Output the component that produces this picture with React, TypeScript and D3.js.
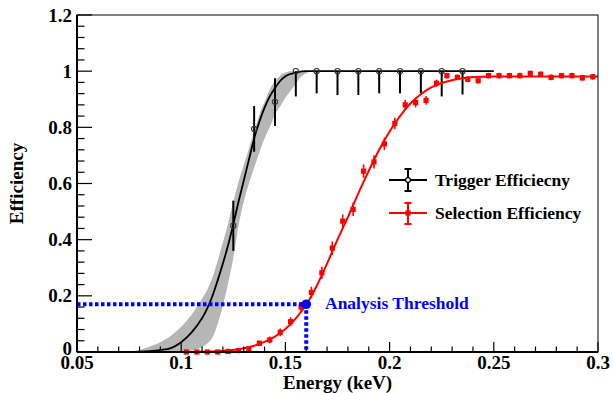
import React from "react";
import * as d3 from "d3";

// ---- axis ticks ----
const xTickLabels = ["0.05", "0.1", "0.15", "0.2", "0.25", "0.3"];
const yTickLabels = ["0", "0.2", "0.4", "0.6", "0.8", "1", "1.2"];

// ---- trigger efficiency data (black) ----
const trigX = [0.125, 0.135, 0.145, 0.155, 0.165, 0.175, 0.185, 0.195, 0.205, 0.215, 0.225, 0.235];
const trigY = [0.45, 0.794, 0.891, 1.0, 1.0, 1.0, 1.0, 1.0, 1.0, 1.0, 1.0, 1.0];
const trigErrLow = [0.09, 0.081, 0.086, 0.09, 0.079, 0.085, 0.085, 0.079, 0.079, 0.079, 0.09, 0.083];
const trigErrHigh = [0.089, 0.082, 0.084, 0, 0, 0, 0, 0, 0, 0, 0, 0];

// ---- trigger fit curve (black) ----
const trigFitX = [0.05, 0.075, 0.08, 0.085, 0.09, 0.095, 0.1, 0.105, 0.11, 0.1125, 0.115, 0.1175, 0.12, 0.1225, 0.125, 0.1275, 0.13, 0.1325, 0.135, 0.1375, 0.14, 0.1425, 0.145, 0.1475, 0.15, 0.155, 0.16, 0.25];
const trigFitY = [0, 0, 0.001, 0.003, 0.007, 0.014, 0.035, 0.07, 0.12, 0.155, 0.2, 0.255, 0.315, 0.38, 0.455, 0.535, 0.61, 0.685, 0.76, 0.82, 0.87, 0.91, 0.94, 0.965, 0.982, 0.995, 1.0, 1.0];

// ---- trigger fit uncertainty band (grey) ----
const bandX = [0.0775, 0.08, 0.0825, 0.085, 0.0875, 0.09, 0.0925, 0.095, 0.0975, 0.1, 0.1025, 0.105, 0.1075, 0.11, 0.1125, 0.115, 0.1175, 0.12, 0.1225, 0.125, 0.1275, 0.13, 0.1325, 0.135, 0.1375, 0.14, 0.1425, 0.145, 0.1475, 0.15, 0.1525, 0.155, 0.1575, 0.16, 0.1625];
const bandUpper = [0, 0.006, 0.013, 0.02, 0.027, 0.035, 0.045, 0.058, 0.073, 0.09, 0.11, 0.133, 0.16, 0.19, 0.222, 0.265, 0.325, 0.39, 0.458, 0.535, 0.605, 0.665, 0.725, 0.785, 0.845, 0.89, 0.935, 0.965, 0.985, 0.995, 1.0, 1.0, 1.0, 1.0, 1.0];
const bandLower = [0, 0, 0, 0, 0, 0, 0, 0, 0, 0, 0.002, 0.005, 0.01, 0.017, 0.03, 0.052, 0.1, 0.165, 0.245, 0.335, 0.45, 0.535, 0.6, 0.655, 0.71, 0.76, 0.8, 0.845, 0.875, 0.905, 0.93, 0.955, 0.98, 0.993, 1.0];

// ---- selection efficiency data (red) ----
const selX = [0.1025, 0.1075, 0.1125, 0.1175, 0.1225, 0.1275, 0.1325, 0.1375, 0.1425, 0.1475, 0.1525, 0.1575, 0.1625, 0.1675, 0.1725, 0.1775, 0.1825, 0.1875, 0.1925, 0.1975, 0.2025, 0.2075, 0.2125, 0.2175, 0.2225, 0.2275, 0.2325, 0.2375, 0.2425, 0.2475, 0.2525, 0.2575, 0.2625, 0.2675, 0.2725, 0.2775, 0.2825, 0.2875, 0.2925, 0.2975];
const selY = [0.0, 0.0, 0.0, 0.0, 0.002, 0.005, 0.011, 0.031, 0.043, 0.07, 0.108, 0.16, 0.212, 0.282, 0.37, 0.466, 0.508, 0.644, 0.677, 0.741, 0.814, 0.88, 0.888, 0.896, 0.957, 0.984, 0.978, 0.971, 0.966, 0.984, 0.984, 0.984, 0.984, 0.992, 0.989, 0.978, 0.984, 0.984, 0.976, 0.98];
const selErr = [0.003, 0.003, 0.003, 0.003, 0.004, 0.005, 0.006, 0.01, 0.012, 0.014, 0.016, 0.018, 0.02, 0.022, 0.024, 0.024, 0.024, 0.024, 0.024, 0.022, 0.02, 0.018, 0.017, 0.016, 0.013, 0.01, 0.01, 0.01, 0.01, 0.01, 0.01, 0.01, 0.01, 0.01, 0.01, 0.01, 0.01, 0.01, 0.01, 0.01];

// ---- selection fit curve (red) ----
const selFitX = [0.1, 0.105, 0.11, 0.115, 0.12, 0.125, 0.13, 0.135, 0.14, 0.145, 0.15, 0.155, 0.16, 0.165, 0.17, 0.175, 0.18, 0.185, 0.19, 0.195, 0.2, 0.205, 0.21, 0.215, 0.22, 0.225, 0.23, 0.235, 0.24, 0.25, 0.3];
const selFitY = [0, 0, 0.001, 0.002, 0.004, 0.007, 0.013, 0.022, 0.036, 0.055, 0.082, 0.12, 0.168, 0.235, 0.315, 0.4, 0.48, 0.565, 0.645, 0.72, 0.785, 0.84, 0.885, 0.918, 0.942, 0.958, 0.968, 0.975, 0.979, 0.981, 0.981];

// ---- threshold ----
const thresholdX = [0.16];
const thresholdY = [0.17];
const thresholdLabel = "Analysis Threshold";

const legendLabels = ["Trigger Efficiecny", "Selection Efficiency"];

const FONT = "'Liberation Serif', 'Times New Roman', serif";

export default function App() {
  const W = 613, H = 393;
  const L = 77, R = 598, T = 15, B = 352;
  const x = d3.scaleLinear().domain([0.05, 0.3]).range([L, R]);
  const y = d3.scaleLinear().domain([0, 1.2]).range([B, T]);

  const line = d3.line<[number, number]>().x(d => x(d[0])).y(d => y(d[1])).curve(d3.curveMonotoneX);
  const area = d3.area<number>()
    .x((_, i) => x(bandX[i]))
    .y0((_, i) => y(bandLower[i]))
    .y1((_, i) => y(bandUpper[i]))
    .curve(d3.curveMonotoneX);

  const trigFit = line(trigFitX.map((v, i) => [v, trigFitY[i]]));
  const selFit = line(selFitX.map((v, i) => [v, selFitY[i]]));
  const band = area(bandX);

  const xMajor = xTickLabels.map(Number);
  const xMinor = d3.range(0.05, 0.3001, 0.01).filter(v => !xMajor.some(m => Math.abs(m - v) < 1e-6));
  const yMajor = yTickLabels.map(Number);
  const yMinor = d3.range(0, 1.2001, 0.04).filter(v => !yMajor.some(m => Math.abs(m - v) < 1e-6));

  const tx = x(thresholdX[0]);
  const ty = y(thresholdY[0]);

  const legX0 = 389, legX1 = 427, legXm = 408;
  const legY = [180, 213];

  return (
    <svg width={W} height={H} style={{ position: "absolute", left: 0, top: 0, background: "#fff" }} fontFamily={FONT}>
      <rect x={0} y={0} width={W} height={H} fill="#fff" />
      {/* band */}
      <path d={band || ""} fill="#b6b6b6" stroke="none" />
      {/* trigger fit */}
      <path d={trigFit || ""} fill="none" stroke="#000" strokeWidth={1.8} />
      {/* trigger data */}
      {trigX.map((v, i) => (
        <g key={"t" + i}>
          <line x1={x(v)} x2={x(v)} y1={y(trigY[i] + trigErrHigh[i])} y2={y(trigY[i] - trigErrLow[i])} stroke="#000" strokeWidth={2} />
          <circle cx={x(v)} cy={y(trigY[i])} r={2.6} fill="none" stroke="#333" strokeWidth={1.1} />
        </g>
      ))}
      {/* selection fit */}
      <path d={selFit || ""} fill="none" stroke="#ff0000" strokeWidth={2} />
      {/* selection data */}
      {selX.map((v, i) => (
        <g key={"s" + i}>
          <line x1={x(v)} x2={x(v)} y1={y(selY[i] + selErr[i])} y2={y(Math.max(0, selY[i] - selErr[i]))} stroke="#ff0000" strokeWidth={1.6} />
          <rect x={x(v) - 2.6} y={y(selY[i]) - 2.6} width={5.2} height={5.2} fill="#ff0000" />
        </g>
      ))}
      {/* threshold */}
      <line x1={L} x2={tx} y1={ty} y2={ty} stroke="#0000ff" strokeWidth={4} strokeDasharray="3.5 2.5" />
      <line x1={tx} x2={tx} y1={ty} y2={B} stroke="#0000ff" strokeWidth={4} strokeDasharray="3.5 2.5" />
      <circle cx={tx} cy={ty} r={4.8} fill="#0000ff" />
      <text x={325} y={ty + 5} fontSize={17.5} fontWeight="bold" fill="#0000ff">{thresholdLabel}</text>

      {/* legend */}
      <line x1={legX0} x2={legX1} y1={legY[0]} y2={legY[0]} stroke="#000" strokeWidth={2} />
      <line x1={legXm} x2={legXm} y1={legY[0] - 11} y2={legY[0] + 11} stroke="#000" strokeWidth={2} />
      <line x1={legXm - 3.5} x2={legXm + 3.5} y1={legY[0] - 11} y2={legY[0] - 11} stroke="#000" strokeWidth={2} />
      <line x1={legXm - 3.5} x2={legXm + 3.5} y1={legY[0] + 11} y2={legY[0] + 11} stroke="#000" strokeWidth={2} />
      <circle cx={legXm} cy={legY[0]} r={2.4} fill="#fff" stroke="#000" strokeWidth={1.2} />
      <line x1={legX0} x2={legX1} y1={legY[1]} y2={legY[1]} stroke="#ff0000" strokeWidth={2} />
      <line x1={legXm} x2={legXm} y1={legY[1] - 10} y2={legY[1] + 11} stroke="#ff0000" strokeWidth={2} />
      <line x1={legXm - 3.5} x2={legXm + 3.5} y1={legY[1] - 10} y2={legY[1] - 10} stroke="#ff0000" strokeWidth={2} />
      <line x1={legXm - 3.5} x2={legXm + 3.5} y1={legY[1] + 11} y2={legY[1] + 11} stroke="#ff0000" strokeWidth={2} />
      <rect x={legXm - 2.6} y={legY[1] - 2.6} width={5.2} height={5.2} fill="#ff0000" />
      {legendLabels.map((t, i) => (
        <text key={t} x={435} y={legY[i] + 6} fontSize={17.5} fontWeight="bold" fill="#000">{t}</text>
      ))}

      {/* frame */}
      <rect x={L} y={T} width={R - L} height={B - T} fill="none" stroke="#000" strokeWidth={1} />
      <line x1={L} x2={L} y1={T} y2={B} stroke="#000" strokeWidth={2} />
      <line x1={L} x2={R} y1={B} y2={B} stroke="#000" strokeWidth={2} />
      {/* ticks */}
      {xMajor.map(v => <line key={"xM" + v} x1={x(v)} x2={x(v)} y1={B} y2={B - 10} stroke="#000" strokeWidth={1.2} />)}
      {xMinor.map(v => <line key={"xm" + v} x1={x(v)} x2={x(v)} y1={B} y2={B - 5.5} stroke="#000" strokeWidth={1.2} />)}
      {yMajor.map(v => <line key={"yM" + v} x1={L} x2={L + 15} y1={y(v)} y2={y(v)} stroke="#000" strokeWidth={1.2} />)}
      {yMinor.map(v => <line key={"ym" + v} x1={L} x2={L + 7.5} y1={y(v)} y2={y(v)} stroke="#000" strokeWidth={1.2} />)}
      {/* tick labels */}
      {xTickLabels.map(t => (
        <text key={"xl" + t} x={x(Number(t))} y={369} textAnchor="middle" fontSize={19} fontWeight="bold">{t}</text>
      ))}
      {yTickLabels.map(t => (
        <text key={"yl" + t} x={72} y={Number(t) === 0 ? 355 : y(Number(t)) + 6.5} textAnchor="end" fontSize={19} fontWeight="bold">{t}</text>
      ))}
      {/* axis titles */}
      <text x={(L + R) / 2} y={389} textAnchor="middle" fontSize={19} fontWeight="bold">Energy (keV)</text>
      <text transform={`translate(23, ${(T + B) / 2}) rotate(-90)`} textAnchor="middle" fontSize={19} fontWeight="bold">Efficiency</text>
    </svg>
  );
}
